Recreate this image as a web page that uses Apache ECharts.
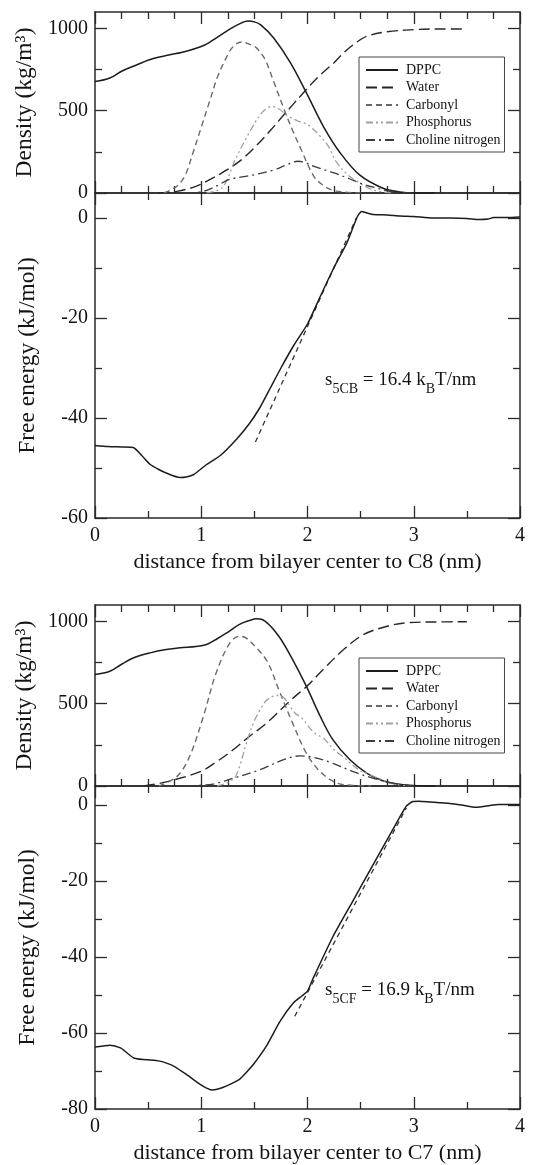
<!DOCTYPE html>
<html>
<head>
<meta charset="utf-8">
<script src="https://cdn.jsdelivr.net/npm/echarts@6/dist/echarts.min.js"></script>
<style>
  html, body { margin: 0; padding: 0; background: #fff; }
  #chart { width: 533px; height: 1165px; }
</style>
</head>
<body>
<div id="chart"></div>
<script>
// ---- text ----
const seriesNames = ['DPPC', 'Water', 'Carbonyl', 'Phosphorus', 'Choline nitrogen'];
const xTitles = ['distance from bilayer center to C8 (nm)', 'distance from bilayer center to C7 (nm)'];
const densityTitle = 'Density (kg/m\u00B3)';
const energyTitle = 'Free energy (kJ/mol)';
const slopeSubs = ['5CB', '5CF'];
const slopeValues = ['16.4', '16.9'];

// ---- ticks ----
const xMajor = [0, 1, 2, 3, 4];
const xMinorQuarter = [0.25, 0.5, 0.75, 1.25, 1.5, 1.75, 2.25, 2.5, 2.75, 3.25, 3.5, 3.75];
const xMinorHalf = [0.5, 1.5, 2.5, 3.5];
const densityRange = [0, 1100];
const densityMajor = [0, 500, 1000];
const densityMinor = [250, 750];
const energyRangeC8 = [-60, 5];
const energyMajorC8 = [-60, -40, -20, 0];
const energyMinorC8 = [-50, -30, -10];
const energyRangeC7 = [-80, 5];
const energyMajorC7 = [-80, -60, -40, -20, 0];
const energyMinorC7 = [-70, -50, -30, -10];

// ---- density profiles, C8 system (nm, kg/m^3) ----
const dppcC8 = [[0,677],[0.14,699],[0.25,740],[0.36,770],[0.52,811],[0.67,835],[0.86,862],[1.0,890],[1.07,913],[1.24,984],[1.35,1025],[1.44,1045],[1.5,1040],[1.56,1022],[1.68,943],[1.84,791],[1.99,608],[2.15,404],[2.31,242],[2.49,110],[2.71,29],[2.87,6],[3.0,0],[3.2,0]];
const waterC8 = [[0.6,0],[0.77,10],[0.95,40],[1.08,81],[1.24,140],[1.38,203],[1.5,275],[1.65,380],[1.78,477],[1.97,615],[2.1,705],[2.25,792],[2.34,852],[2.45,910],[2.56,953],[2.75,980],[3.03,994],[3.25,997],[3.5,996]];
const carbonylC8 = [[0.65,0],[0.77,41],[0.85,110],[0.92,240],[1.0,400],[1.08,560],[1.15,700],[1.23,815],[1.3,890],[1.38,918],[1.45,905],[1.52,882],[1.6,812],[1.68,680],[1.78,508],[1.86,380],[1.94,264],[2.06,101],[2.14,50],[2.22,20],[2.34,6],[2.5,0]];
const phosphorusC8 = [[1.05,0],[1.2,35],[1.32,203],[1.45,365],[1.57,487],[1.66,525],[1.72,515],[1.82,467],[1.9,440],[2.0,416],[2.12,345],[2.2,280],[2.27,190],[2.38,110],[2.49,61],[2.62,18],[2.8,0]];
const cholineC8 = [[0.85,0],[1.02,10],[1.15,45],[1.26,81],[1.4,100],[1.51,112],[1.69,142],[1.8,170],[1.91,193],[1.98,185],[2.06,162],[2.25,122],[2.4,85],[2.49,61],[2.62,35],[2.8,8],[3.0,0]];

// ---- density profiles, C7 system ----
const dppcC7 = [[0,677],[0.14,697],[0.25,740],[0.36,778],[0.52,809],[0.67,829],[0.8,840],[0.95,848],[1.05,860],[1.15,895],[1.24,931],[1.36,982],[1.45,1005],[1.52,1016],[1.6,1002],[1.73,910],[1.86,768],[1.99,605],[2.12,423],[2.24,280],[2.4,159],[2.56,77],[2.71,32],[2.85,12],[2.96,4],[3.1,0],[3.2,0]];
const waterC7 = [[0.46,0],[0.6,15],[0.74,37],[0.99,87],[1.15,150],[1.3,220],[1.45,300],[1.62,385],[1.84,520],[2.0,610],[2.15,710],[2.34,829],[2.53,921],[2.75,971],[2.93,992],[3.2,997],[3.5,998]];
const carbonylC7 = [[0.6,0],[0.77,57],[0.89,179],[1.02,423],[1.14,687],[1.27,870],[1.36,910],[1.42,900],[1.49,860],[1.62,758],[1.73,585],[1.86,382],[1.99,199],[2.12,87],[2.27,20],[2.45,3],[2.6,0]];
const phosphorusC7 = [[1.15,0],[1.3,40],[1.36,118],[1.42,250],[1.49,382],[1.56,470],[1.62,524],[1.71,550],[1.76,545],[1.88,445],[1.95,410],[2.06,325],[2.15,290],[2.25,220],[2.35,170],[2.49,95],[2.56,77],[2.68,43],[2.8,15],[2.95,0]];
const cholineC7 = [[0.86,0],[1.11,12],[1.3,47],[1.55,98],[1.77,159],[1.93,183],[2.05,175],[2.24,138],[2.43,87],[2.62,47],[2.81,16],[3.0,0]];

// ---- free energy profiles (kJ/mol) and linear fits ----
const energyC8 = [[0,-45.5],[0.12,-45.7],[0.25,-45.8],[0.36,-45.9],[0.44,-47.5],[0.52,-49.3],[0.6,-50.3],[0.67,-51],[0.8,-51.9],[0.86,-51.8],[0.93,-51.3],[1.05,-49.3],[1.18,-47.5],[1.33,-44.3],[1.45,-41.2],[1.55,-38],[1.65,-34],[1.75,-30],[1.87,-25.5],[2.0,-21.2],[2.12,-15.7],[2.24,-10.3],[2.37,-5],[2.47,0.3],[2.51,1.3],[2.56,1.0],[2.62,0.7],[2.75,0.6],[2.87,0.4],[3.0,0.3],[3.18,0],[3.35,0],[3.5,-0.1],[3.62,-0.3],[3.7,-0.2],[3.75,0.1],[3.88,0.1],[4.0,0.2]];
const fitC8 = [[1.51,-44.8],[2.46,0]];
const energyC7 = [[0,-63.7],[0.08,-63.4],[0.14,-63.2],[0.24,-63.9],[0.3,-65.2],[0.36,-66.5],[0.45,-67],[0.52,-67.1],[0.61,-67.4],[0.68,-68],[0.74,-68.7],[0.86,-70.9],[0.99,-73.5],[1.05,-74.5],[1.1,-75],[1.15,-74.8],[1.24,-73.9],[1.36,-72.2],[1.42,-70.5],[1.49,-68.3],[1.62,-63.1],[1.74,-57],[1.87,-52],[1.95,-50.2],[2.0,-49],[2.05,-45.8],[2.24,-34.6],[2.42,-25.6],[2.61,-16.1],[2.8,-6.6],[2.93,-0.3],[2.99,0.9],[3.05,1.0],[3.15,0.8],[3.34,0.4],[3.45,0],[3.59,-0.6],[3.7,-0.2],[3.8,0.1],[4.0,0.1]];
const fitC7 = [[1.88,-55.6],[2.93,-0.8]];

// ---- styling ----
const FONT = '"Liberation Serif", "Times New Roman", serif';
const INK = '#2a2a2a';
const TEXT = '#141414';
const lineStyles = {
  'DPPC':             { color: '#1c1c1c', width: 1.5, type: 'solid' },
  'Water':            { color: '#262626', width: 1.4, type: [11, 5] },
  'Carbonyl':         { color: '#6a6a6a', width: 1.4, type: [6, 4] },
  'Phosphorus':       { color: '#a0a0a0', width: 1.3, type: [7, 3, 2, 3, 2, 3] },
  'Choline nitrogen': { color: '#3c3c3c', width: 1.3, type: [9, 4, 2, 4] }
};

const grids = [
  { left: 95, right: 13, top: 12,  height: 181 },
  { left: 95, right: 13, top: 193, height: 325 },
  { left: 95, right: 13, top: 605, height: 181 },
  { left: 95, right: 13, top: 786, height: 326 }
];

function axis(grid, pos, range, ticks, len, opts) {
  const a = {
    type: 'value', gridIndex: grid, position: pos,
    min: range[0], max: range[1],
    splitLine: { show: false },
    axisLine: { show: !!opts.line, onZero: false, lineStyle: { color: INK, width: 1.5 } },
    axisTick: { show: true, inside: true, length: len, customValues: ticks,
                lineStyle: { color: INK, width: 1.3 } },
    axisLabel: { show: false }
  };
  if (opts.labels) {
    a.axisLabel = { show: true, customValues: opts.labels, formatter: v => String(v),
                    fontFamily: FONT, fontSize: 20, color: TEXT, margin: opts.margin };
  }
  if (opts.name) {
    a.name = opts.name;
    a.nameLocation = 'middle';
    a.nameGap = opts.nameGap;
    a.nameTextStyle = { fontFamily: FONT, fontSize: opts.nameSize, color: TEXT };
  }
  return a;
}

const panelSpec = [
  { xMinor: xMinorQuarter, yRange: densityRange, yMajor: densityMajor, yMinor: densityMinor, yName: densityTitle, xName: null },
  { xMinor: xMinorHalf, yRange: energyRangeC8, yMajor: energyMajorC8, yMinor: energyMinorC8, yName: energyTitle, xName: xTitles[0] },
  { xMinor: xMinorQuarter, yRange: densityRange, yMajor: densityMajor, yMinor: densityMinor, yName: densityTitle, xName: null },
  { xMinor: xMinorHalf, yRange: energyRangeC7, yMajor: energyMajorC7, yMinor: energyMinorC7, yName: energyTitle, xName: xTitles[1] }
];

const xAxes = [], yAxes = [];
panelSpec.forEach((p, g) => {
  const xr = [0, 4];
  // x: bottom (major), top (major), bottom minor, top minor
  xAxes.push(axis(g, 'bottom', xr, xMajor, 12, { line: true,
    labels: p.xName ? xMajor : null, margin: 8, name: p.xName, nameGap: 33, nameSize: 22 }));
  xAxes.push(axis(g, 'top', xr, xMajor, 12, { line: true }));
  xAxes.push(axis(g, 'bottom', xr, p.xMinor, 7, {}));
  xAxes.push(axis(g, 'top', xr, p.xMinor, 7, {}));
  // y: left (major), right (major), left minor, right minor
  yAxes.push(axis(g, 'left', p.yRange, p.yMajor, 12, { line: true,
    labels: p.yMajor, margin: 7, name: p.yName, nameGap: 55, nameSize: 23.5 }));
  yAxes.push(axis(g, 'right', p.yRange, p.yMajor, 12, { line: true }));
  yAxes.push(axis(g, 'left', p.yRange, p.yMinor, 7, {}));
  yAxes.push(axis(g, 'right', p.yRange, p.yMinor, 7, {}));
});

function curve(name, data, g, style, smooth) {
  const s = style || lineStyles[name];
  return {
    type: 'line', name: name, data: data,
    xAxisIndex: 4 * g, yAxisIndex: 4 * g,
    symbol: 'none', smooth: smooth,
    color: s.color, lineStyle: s, silent: true
  };
}

const fitStyle = { color: '#333', width: 1.3, type: [5, 4] };
const densityC8 = [dppcC8, waterC8, carbonylC8, phosphorusC8, cholineC8];
const densityC7 = [dppcC7, waterC7, carbonylC7, phosphorusC7, cholineC7];
const series = [];
seriesNames.forEach((n, i) => series.push(curve(n, densityC8[i], 0, null, 0.35)));
series.push(curve('fit C8', fitC8, 1, fitStyle, false));
series.push(curve('free energy C8', energyC8, 1, { color: '#1c1c1c', width: 1.5, type: 'solid' }, 0.2));
seriesNames.forEach((n, i) => series.push(curve(n, densityC7[i], 2, null, 0.35)));
series.push(curve('fit C7', fitC7, 3, fitStyle, false));
series.push(curve('free energy C7', energyC7, 3, { color: '#1c1c1c', width: 1.5, type: 'solid' }, 0.2));

function legendAt(top) {
  return {
    data: seriesNames, orient: 'vertical', left: 359, top: top,
    itemWidth: 32, itemHeight: 14, itemGap: 3.5,
    padding: [6, 4, 5, 6],
    borderColor: '#444', borderWidth: 1, backgroundColor: '#fff',
    selectedMode: false,
    // line-only keys: hide the marker drawn at the middle of each key
    itemStyle: { opacity: 0, borderWidth: 0 },
    textStyle: { fontFamily: FONT, fontSize: 14, color: TEXT, lineHeight: 14, padding: [0, 0, 0, 3] }
  };
}

function slopeText(i, y) {
  return {
    type: 'text', x: 325, y: y, silent: true,
    style: {
      text: '{m|s}{s|' + slopeSubs[i] + '}{m| = ' + slopeValues[i] + ' k}{s|B}{m|T/nm}',
      fill: TEXT,
      rich: {
        m: { fontFamily: FONT, fontSize: 19, lineHeight: 22, verticalAlign: 'top', fill: TEXT },
        s: { fontFamily: FONT, fontSize: 14, lineHeight: 16, padding: [11, 0, 0, 0], verticalAlign: 'top', fill: TEXT }
      }
    }
  };
}

const chart = echarts.init(document.getElementById('chart'), null, { renderer: 'canvas' });
chart.setOption({
  animation: false,
  backgroundColor: '#fff',
  grid: grids,
  xAxis: xAxes,
  yAxis: yAxes,
  legend: [legendAt(57), legendAt(658)],
  series: series,
  graphic: [slopeText(0, 371), slopeText(1, 981)]
});
</script>
</body>
</html>
